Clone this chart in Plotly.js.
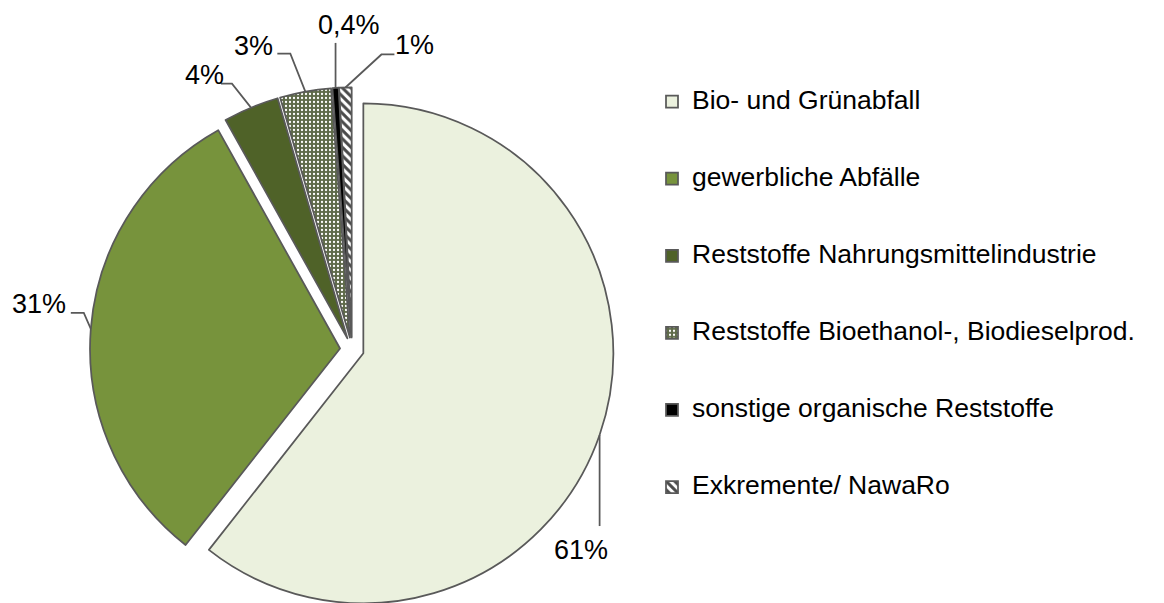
<!DOCTYPE html>
<html><head><meta charset="utf-8">
<script src="https://cdn.plot.ly/plotly-3.0.1.min.js"></script>
<style>html,body{margin:0;padding:0;overflow:hidden;background:#fff}</style>
</head><body><div id="chart"></div>
<script>
// ---- data ----
const categories = ["Bio- und Grünabfall", "gewerbliche Abfälle", "Reststoffe Nahrungsmittelindustrie",
  "Reststoffe Bioethanol-, Biodieselprod.", "sonstige organische Reststoffe", "Exkremente/ NawaRo"];
const shares = [60.6, 31.3, 3.6, 3.3, 0.4, 0.8];
const shareLabels = ["61%", "31%", "4%", "3%", "0,4%", "1%"];

// ---- styles ----
const sliceColors = ["#EBF1DE", "#77933C", "#4F6228", "#5E6A49", "#000000", "#FFFFFF"];
const patShapes = ["", "", "", ".", "", "\\"];
const patFg = ["#EBF1DE", "#77933C", "#4F6228", "#FFFFFF", "#000000", "#4A4A4A"];
const patBg = ["#EBF1DE", "#77933C", "#4F6228", "#5E6A49", "#000000", "#FFFFFF"];
const patSolid = [0.3, 0.3, 0.3, 0.25, 0.3, 0.5];
const patSize = [4, 4, 4, 4, 4, 6];
// leader geometry relative to slice anchor (px): points of the leader polyline, label centre
const leaderPts = [
  [[0, 91]],
  [[-7, -16], [-20, -16]],
  [[-19, -24], [-30, -24]],
  [[-15, -38], [-28, -38]],
  [[0, -45]],
  [[36, -33], [49, -33]]
];
const labelOff = [[-19, 115], [-52, -25], [-46, -33], [-52, -46], [13, -63], [69, -42]];

const W = 1164, H = 700;
const CX = 352, CY = 349.4, R = 250, PULL_PX = 12;
const pull = PULL_PX / R;
const half = R * (1 + pull);
const domain = {x: [(CX - half) / W, (CX + half) / W], y: [1 - (CY + half) / H, 1 - (CY - half) / H]};
const X = p => p / W, Y = p => 1 - p / H;

const total = shares.reduce((a, b) => a + b, 0);
let cum = 0;
const shapes = [], annotations = [];
shares.forEach((v, i) => {
  const mid = (cum + v / 2) / total * 2 * Math.PI;
  cum += v;
  const ax = CX + (R + PULL_PX) * Math.sin(mid);
  const ay = CY - (R + PULL_PX) * Math.cos(mid);
  let path = `M${X(ax)},${Y(ay)}`;
  leaderPts[i].forEach(p => { path += ` L${X(ax + p[0])},${Y(ay + p[1])}`; });
  shapes.push({type: 'path', xref: 'paper', yref: 'paper', path: path,
    line: {color: '#595959', width: 1.75}});
  annotations.push({xref: 'paper', yref: 'paper', x: X(ax + labelOff[i][0]), y: Y(ay + labelOff[i][1]),
    xanchor: 'center', yanchor: 'middle', showarrow: false, text: shareLabels[i],
    font: {family: 'Liberation Sans, Arial, sans-serif', size: 27, color: '#000'}});
});

const legendLabels = categories.map(c => ' <br><span style="font-size:26.5px">' + c + '</span><br> ');

const trace = {
  type: 'pie', values: shares, labels: legendLabels, sort: false, direction: 'clockwise', rotation: 0,
  pull: shares.map(() => pull), textinfo: 'none', hoverinfo: 'skip',
  domain: domain,
  marker: {colors: sliceColors, line: {color: '#595959', width: 1.75},
    pattern: {shape: patShapes, fgcolor: patFg, bgcolor: patBg, size: patSize, solidity: patSolid, fillmode: 'replace'}}
};

Plotly.newPlot('chart', [trace], {
  width: W, height: H, margin: {l: 0, r: 0, t: 0, b: 0},
  paper_bgcolor: '#fff', showlegend: true,
  legend: {x: 652 / W, y: 1 - 58 / H, xanchor: 'left', yanchor: 'top', valign: 'middle',
    font: {family: 'Liberation Sans, Arial, sans-serif', size: 19, color: '#000'}},
  shapes: shapes, annotations: annotations
}, {displayModeBar: false, staticPlot: true});
</script></body></html>
